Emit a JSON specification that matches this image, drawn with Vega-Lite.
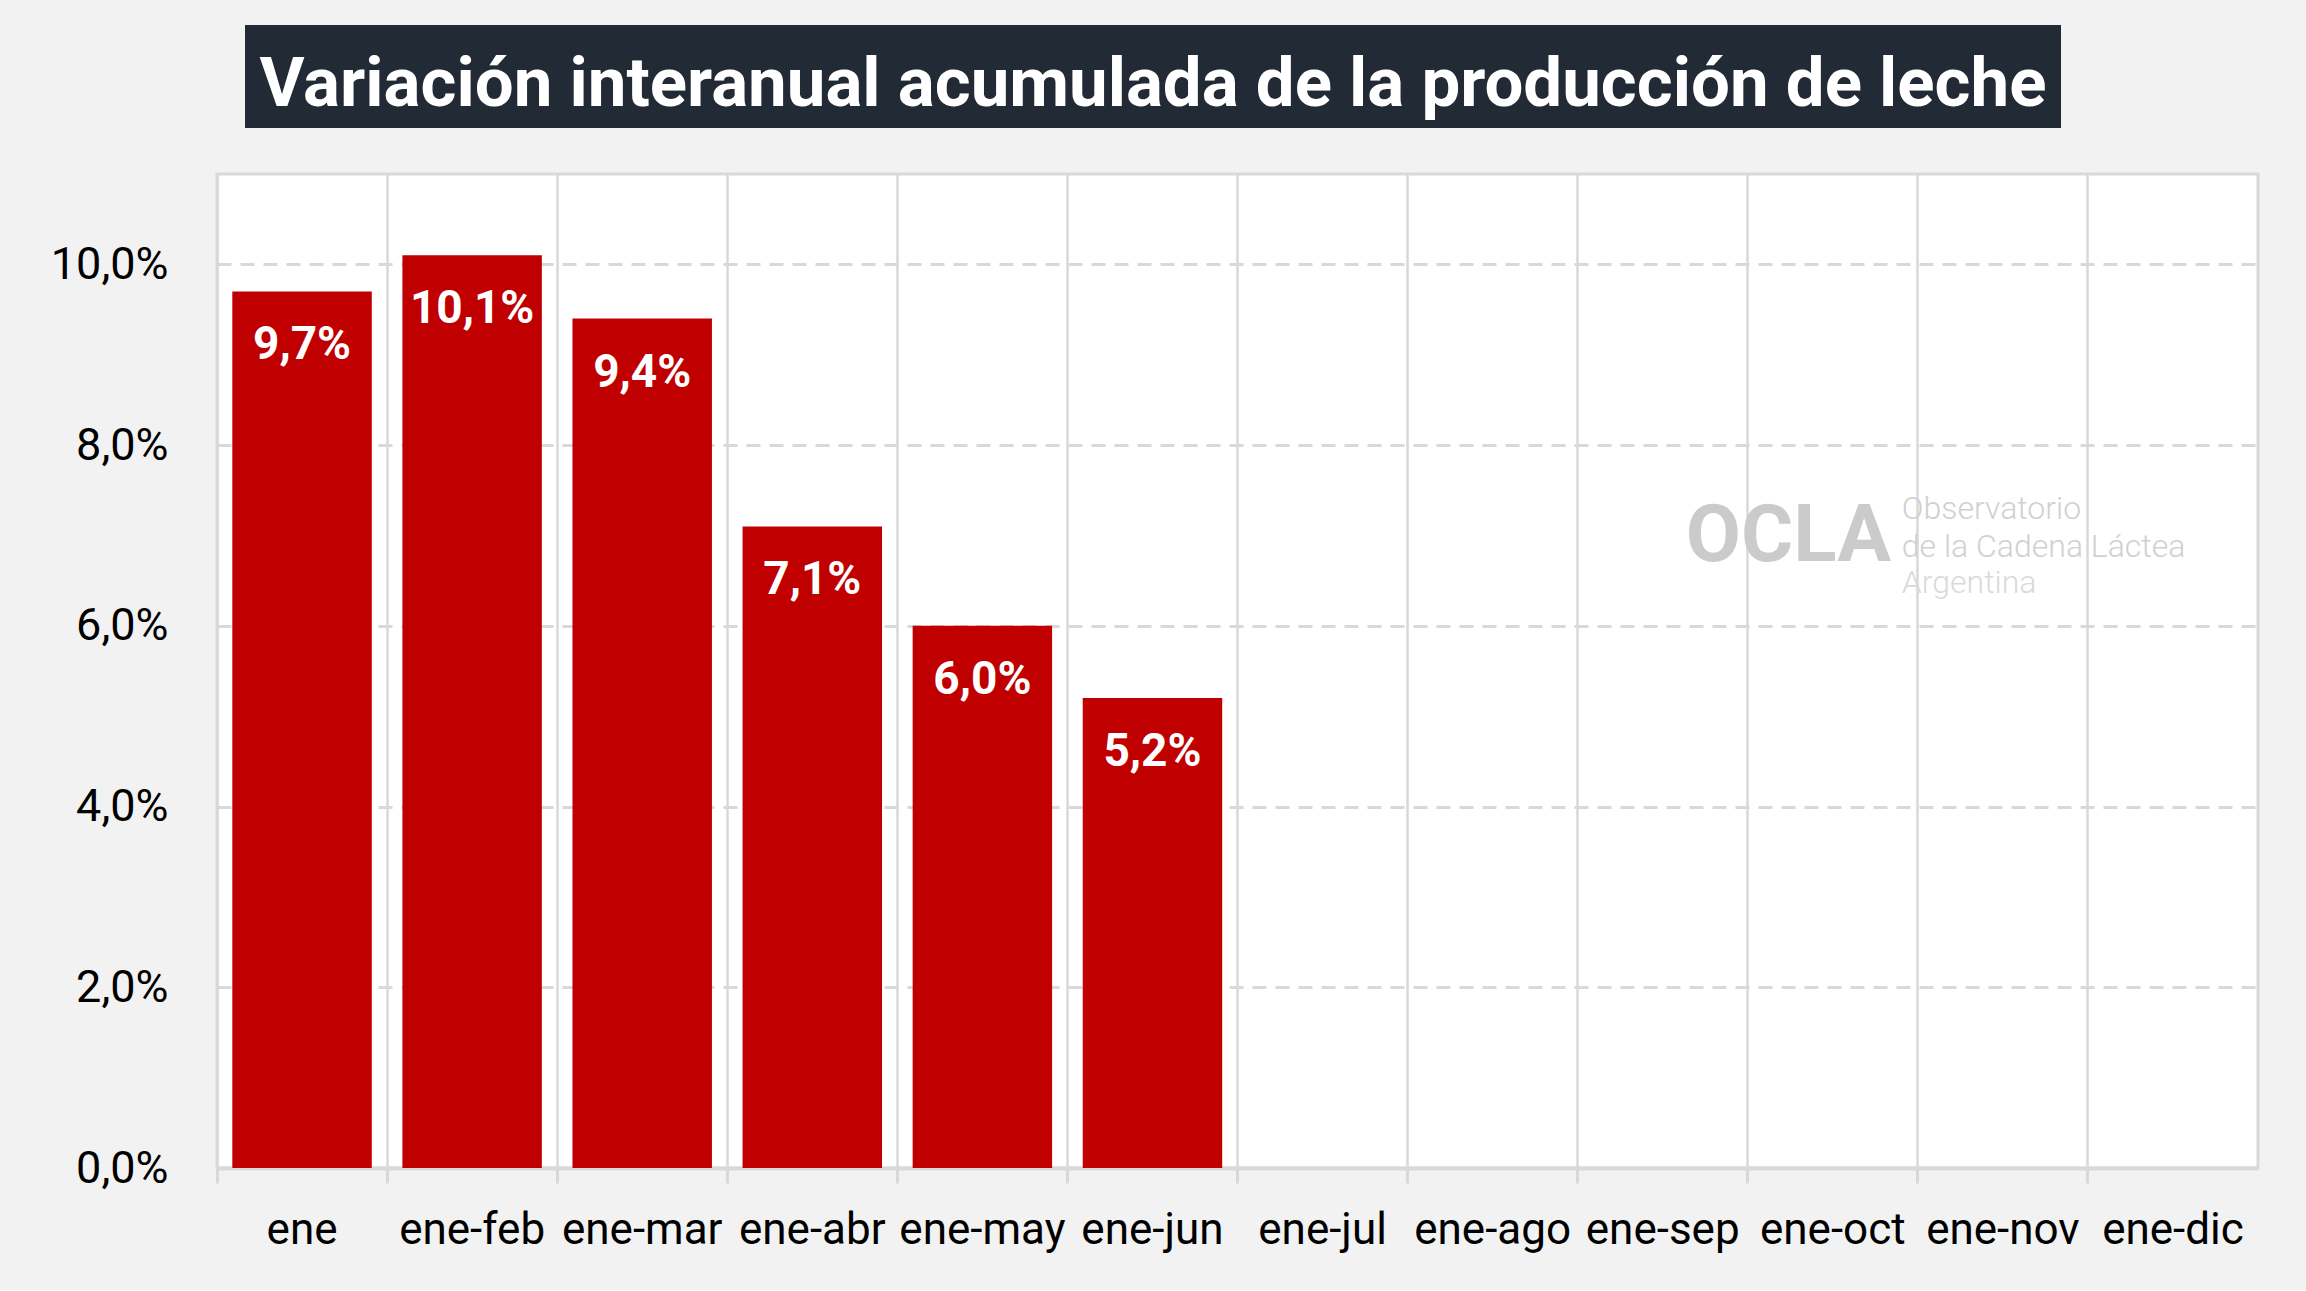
{
  "$schema": "https://vega.github.io/schema/vega-lite/v6.json",
  "background": "#f2f2f2",
  "padding": {"left": 48, "right": 47, "top": 25, "bottom": 36},
  "spacing": 44,
  "center": false,
  "vconcat": [
    {
      "spacing": 27,
      "hconcat": [
        {
          "width": 1,
          "height": 103,
          "view": {"stroke": null},
          "data": {"values": []},
          "mark": "point"
        },
        {
          "width": 1816,
          "height": 103,
          "view": {"fill": "#222a35", "stroke": null},
          "data": {"values": [{"t": "Variación interanual acumulada de la producción de leche"}]},
          "mark": {
            "type": "text",
            "font": "Roboto",
            "fontWeight": "bold",
            "fontSize": 69,
            "color": "white",
            "align": "center",
            "baseline": "alphabetic",
            "dy": 29
          },
          "encoding": {"text": {"field": "t", "type": "nominal"}}
        }
      ]
    },
    {
      "width": 2041,
      "height": 994,
      "view": {"fill": "white", "stroke": "#d9d9d9", "strokeWidth": 3},
      "layer": [
        {
          "data": {
            "values": [
              {"periodo": "ene", "variacion": 0.097},
              {"periodo": "ene-feb", "variacion": 0.101},
              {"periodo": "ene-mar", "variacion": 0.094},
              {"periodo": "ene-abr", "variacion": 0.071},
              {"periodo": "ene-may", "variacion": 0.060},
              {"periodo": "ene-jun", "variacion": 0.052}
            ]
          },
          "encoding": {
            "x": {
              "field": "periodo",
              "type": "nominal",
              "sort": null,
              "scale": {
                "domain": ["ene", "ene-feb", "ene-mar", "ene-abr", "ene-may", "ene-jun", "ene-jul", "ene-ago", "ene-sep", "ene-oct", "ene-nov", "ene-dic"],
                "paddingInner": 0,
                "paddingOuter": 0
              },
              "axis": {
                "title": null,
                "labelAngle": 0,
                "labelFont": "Roboto",
                "labelFontSize": 44,
                "labelColor": "black",
                "labelPadding": 25,
                "labelLimit": 400,
                "labelOverlap": false,
                "bandPosition": 0,
                "grid": true,
                "gridColor": "#d9d9d9",
                "gridWidth": 2.5,
                "ticks": true,
                "tickSize": 15,
                "tickColor": "#d9d9d9",
                "tickWidth": 3,
                "domainColor": "#d9d9d9",
                "domainWidth": 4
              }
            },
            "y": {
              "field": "variacion",
              "type": "quantitative",
              "scale": {"domain": [0, 0.11], "nice": false},
              "axis": {
                "title": null,
                "values": [0, 0.02, 0.04, 0.06, 0.08, 0.1],
                "format": ".1%",
                "labelFont": "Roboto",
                "labelFontSize": 45,
                "labelColor": "black",
                "labelPadding": 49,
                "ticks": false,
                "domain": false,
                "gridColor": "#d9d9d9",
                "gridWidth": 3,
                "gridDash": [14, 9]
              }
            }
          },
          "layer": [
            {
              "mark": {"type": "bar", "color": "#c00000", "width": {"band": 0.82}}
            },
            {
              "mark": {
                "type": "text",
                "font": "Roboto",
                "fontWeight": "bold",
                "fontSize": 46,
                "color": "white",
                "baseline": "middle",
                "dy": 54
              },
              "encoding": {
                "text": {"field": "variacion", "type": "quantitative", "format": ".1%"}
              }
            }
          ]
        },
        {
          "data": {
            "values": [
              {"texto": "OCLA", "periodo": "ene-oct", "pos": 0.07, "parte": "logo"},
              {"texto": "Observatorio", "periodo": "ene-oct", "pos": 0.07, "parte": "l1"},
              {"texto": "de la Cadena Láctea", "periodo": "ene-oct", "pos": 0.07, "parte": "l2"},
              {"texto": "Argentina", "periodo": "ene-oct", "pos": 0.07, "parte": "l3"}
            ]
          },
          "encoding": {
            "x": {"field": "periodo", "type": "nominal", "bandPosition": 0},
            "y": {"field": "pos", "type": "quantitative"},
            "text": {"field": "texto", "type": "nominal"}
          },
          "layer": [
            {
              "transform": [{"filter": "datum.parte == 'logo'"}],
              "mark": {
                "type": "text",
                "font": "Roboto",
                "fontWeight": "bold",
                "fontSize": 80,
                "color": "#cbcbcb",
                "align": "left",
                "baseline": "alphabetic",
                "dx": -62,
                "dy": 26
              }
            },
            {
              "transform": [{"filter": "datum.parte == 'l1'"}],
              "mark": {
                "type": "text",
                "font": "Roboto",
                "fontWeight": 300,
                "fontSize": 32,
                "color": "#d0d0d0",
                "align": "left",
                "baseline": "alphabetic",
                "dx": 154,
                "dy": -16
              }
            },
            {
              "transform": [{"filter": "datum.parte == 'l2'"}],
              "mark": {
                "type": "text",
                "font": "Roboto",
                "fontWeight": 300,
                "fontSize": 32,
                "color": "#d0d0d0",
                "align": "left",
                "baseline": "alphabetic",
                "dx": 154,
                "dy": 22
              }
            },
            {
              "transform": [{"filter": "datum.parte == 'l3'"}],
              "mark": {
                "type": "text",
                "font": "Roboto",
                "fontWeight": 300,
                "fontSize": 32,
                "color": "#dadada",
                "align": "left",
                "baseline": "alphabetic",
                "dx": 154,
                "dy": 58
              }
            }
          ]
        }
      ]
    }
  ],
  "config": {
    "locale": {
      "number": {
        "decimal": ",",
        "thousands": ".",
        "grouping": [3],
        "currency": ["", " €"]
      }
    }
  }
}
